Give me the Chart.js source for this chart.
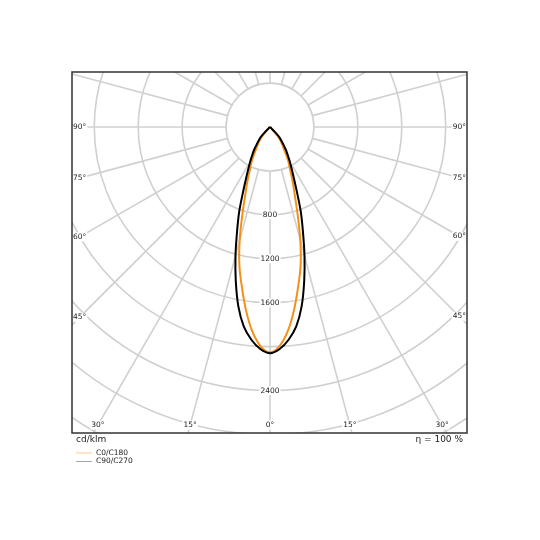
<!DOCTYPE html>
<html><head><meta charset="utf-8">
<script src="https://cdn.jsdelivr.net/npm/chart.js@4.4.0/dist/chart.umd.min.js"></script>
<style>html,body{margin:0;padding:0;background:#fff;}#wrap{width:540px;height:540px;position:relative;}</style>
</head><body><div id="wrap"><canvas id="c" width="540" height="540"></canvas></div>
<script>
// Gamma angles (deg from nadir) and luminous intensity in cd/klm
const gammaDeg = [0,2.5,5,7.5,10,12.5,15,17.5,20,22.5,25,27.5,30,32.5,35,37.5,40,42.5,45,47.5,50,60,70,80,90];
const intensityC0C180 = [2052,1997,1865,1680,1477,1289,1066,838,660,540,435,371,297,232,191,157,116,50,10,0,0,0,0,0,0];
const intensityC90C270 = [2061,2024,1945,1832,1659,1439,1214,997,820,642,515,426,358,298,250,198,158,128,60,15,0,0,0,0,0];
const seriesNames = ['C0/C180','C90/C270'];
const radialTickLabels = [800,1200,1600,2400];
const gridRadii = [400,800,1200,1600,2000,2400,2800,3200,3600];
const gridAngles = [0,15,30,45,60,75,90,105,120,135,150,165,180,195,210,225,240,255,270,285,300,315,330,345];
const angleLabels = [0,15,30,45,60,75,90];
const unitLabel = 'cd/klm';
const efficiencyLabel = 'η = 100 %';

function toXY(vals){
  const pts=[];
  for(let i=gammaDeg.length-1;i>=0;i--){const t=gammaDeg[i]*Math.PI/180;pts.push({x:-vals[i]*Math.sin(t),y:-vals[i]*Math.cos(t)});}
  for(let i=1;i<gammaDeg.length;i++){const t=gammaDeg[i]*Math.PI/180;pts.push({x:vals[i]*Math.sin(t),y:-vals[i]*Math.cos(t)});}
  return pts;
}
const FONT='"DejaVu Sans", sans-serif';
const polarGrid={
  id:'polarGrid',
  beforeDatasetsDraw(chart){
    const {ctx,chartArea:a,scales:{x,y}}=chart;
    const cx=x.getPixelForValue(0), cy=y.getPixelForValue(0);
    const k=(x.getPixelForValue(1000)-cx)/1000;
    ctx.save();
    ctx.beginPath();ctx.rect(a.left,a.top,a.right-a.left,a.bottom-a.top);ctx.clip();
    ctx.strokeStyle='#d0d0d0';ctx.lineWidth=1.6;
    gridRadii.forEach(r=>{ctx.beginPath();ctx.arc(cx,cy,r*k,0,Math.PI*2);ctx.stroke();});
    gridAngles.forEach(g=>{const t=g*Math.PI/180,dx=Math.sin(t),dy=Math.cos(t);
      ctx.beginPath();ctx.moveTo(cx+dx*gridRadii[0]*k,cy+dy*gridRadii[0]*k);ctx.lineTo(cx+dx*6000*k,cy+dy*6000*k);ctx.stroke();});
    ctx.font='7.5px '+FONT;ctx.textBaseline='middle';ctx.textAlign='center';
    radialTickLabels.forEach(r=>{const ty=cy+r*k;const w=ctx.measureText(String(r)).width;
      ctx.fillStyle='#fff';ctx.fillRect(cx-w/2-1,ty-4.5,w+2,9);ctx.fillStyle='#222';ctx.fillText(String(r),cx,ty);});
    angleLabels.forEach(g=>{
      const t=g*Math.PI/180;const s=Math.sin(t),c=Math.cos(t);
      const txt=g+'°';const w=ctx.measureText(txt).width;
      const sides=g===0?[1]:[-1,1];
      sides.forEach(sd=>{
        let px,py;
        const tSide=s>1e-6?(a.right-cx)/s:Infinity;
        const tBot=c>1e-6?(a.bottom-cy)/c:Infinity;
        if(tSide<tBot){
          const lx=sd>0?a.right-1-w/2:a.left+1+w/2;
          const ddx=Math.abs(lx-cx);
          px=lx;py=cy+(c>1e-6?ddx*c/s:0);
        } else {
          py=a.bottom-8;const ddy=py-cy;px=cx+sd*ddy*s/c;
        }
        ctx.fillStyle='#fff';ctx.fillRect(px-w/2-1,py-4.5,w+2,9);
        ctx.fillStyle='#222';ctx.fillText(txt,px,py);
      });
    });
    ctx.restore();
  },
  afterDraw(chart){
    const {ctx,chartArea:a}=chart;
    ctx.save();
    ctx.strokeStyle='#333';ctx.lineWidth=1.5;
    ctx.strokeRect(a.left,a.top,a.right-a.left,a.bottom-a.top);
    ctx.fillStyle='#222';ctx.font='9px '+FONT;ctx.textBaseline='middle';
    ctx.textAlign='left';ctx.fillText(unitLabel,a.left+4,a.bottom+6.5);
    ctx.textAlign='right';ctx.fillText(efficiencyLabel,a.right-4,a.bottom+6.5);
    const legCols=['#fbd08a','#a8a8a8'];
    ctx.font='7.5px '+FONT;ctx.textAlign='left';
    seriesNames.forEach((n,i)=>{const ly=a.bottom+20+i*8.5;
      ctx.strokeStyle=legCols[i];ctx.lineWidth=1;ctx.beginPath();ctx.moveTo(a.left+4,ly);ctx.lineTo(a.left+20,ly);ctx.stroke();
      ctx.fillStyle='#222';ctx.fillText(n,a.left+24,ly);});
    ctx.restore();
  }
};
new Chart(document.getElementById('c'),{
  type:'scatter',
  data:{datasets:[
    {label:seriesNames[0],data:toXY(intensityC0C180),showLine:true,borderColor:'#f39019',borderWidth:2,pointRadius:0,tension:0.3,order:1},
    {label:seriesNames[1],data:toXY(intensityC90C270),showLine:true,borderColor:'#000',borderWidth:2,pointRadius:0,tension:0.3,order:0}
  ]},
  options:{responsive:false,animation:false,devicePixelRatio:1,
    layout:{padding:{left:72,top:72,right:73,bottom:107}},
    plugins:{legend:{display:false},tooltip:{enabled:false}},
    scales:{x:{type:'linear',min:-1803,max:1794,display:false},y:{type:'linear',min:-2787,max:501,display:false}}
  },
  plugins:[polarGrid]
});
</script></body></html>
